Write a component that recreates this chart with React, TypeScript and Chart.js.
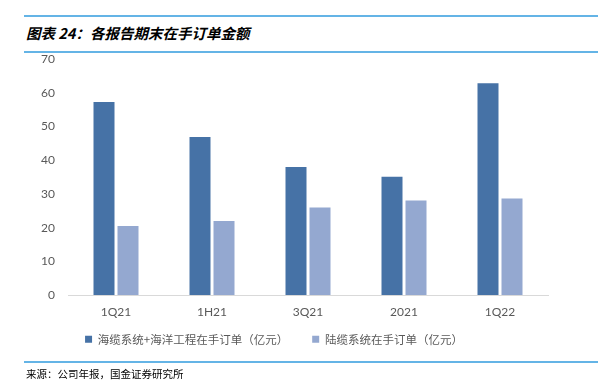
import React, { useEffect, useRef } from "react";
import { Chart, registerables } from "chart.js";

Chart.register(...registerables);

const categories = ["1Q21", "1H21", "3Q21", "2021", "1Q22"];
const seriesSea = [57.3, 46.9, 38.0, 35.1, 62.9];
const seriesLand = [20.5, 22.0, 26.0, 28.1, 28.7];
const seriesNames = ["海缆系统+海洋工程在手订单（亿元）", "陆缆系统在手订单（亿元）"];
const yTicksMax = 70;

const titleText = "图表 24：各报告期末在手订单金额";
const sourceText = "来源：公司年报，国金证券研究所";

const legendLift = {
  id: "legendLift",
  afterLayout(chart: any) {
    if (chart.legend) {
      chart.legend.top -= 20;
      chart.legend.bottom -= 20;
    }
  },
};

export default function App() {
  const ref = useRef<HTMLCanvasElement | null>(null);

  useEffect(() => {
    if (!ref.current) return;
    const chart = new Chart(ref.current, {
      type: "bar",
      data: {
        labels: categories,
        datasets: [
          {
            label: seriesNames[0],
            data: seriesSea,
            backgroundColor: "#4672A6",
            categoryPercentage: 0.5,
            barPercentage: 0.875,
          },
          {
            label: seriesNames[1],
            data: seriesLand,
            backgroundColor: "#94A8D0",
            categoryPercentage: 0.5,
            barPercentage: 0.875,
          },
        ],
      },
      plugins: [legendLift],
      options: {
        animation: false,
        responsive: false,
        maintainAspectRatio: false,
        layout: { padding: { top: 0, right: 50, left: 0, bottom: 2 } },
        plugins: {
          tooltip: { enabled: false },
          legend: {
            position: "bottom",
            labels: {
              boxWidth: 7,
              boxHeight: 7,
              padding: 24,
              color: "#595959",
              font: { family: "'Noto Sans CJK SC', sans-serif", size: 11.5 },
            },
          },
        },
        scales: {
          x: {
            grid: { display: false, drawTicks: false },
            border: { display: true, color: "#D9D9D9", width: 1 },
            ticks: {
              padding: 10,
              color: "#595959",
              font: { family: "Lato, sans-serif", size: 12 },
            },
          },
          y: {
            min: 0,
            max: yTicksMax,
            afterFit: (s: any) => {
              s.width = 68;
            },
            grid: { display: false, drawTicks: false },
            border: { display: false },
            ticks: {
              stepSize: 10,
              padding: 13,
              color: "#595959",
              font: { family: "Lato, sans-serif", size: 12 },
            },
          },
        },
      },
    });
    return () => chart.destroy();
  }, []);

  const line: React.CSSProperties = {
    position: "absolute",
    left: 24,
    right: 0,
    height: 2,
    background: "#64B4E6",
  };

  return (
    <div
      style={{
        position: "fixed",
        left: 0,
        top: 0,
        width: 598,
        height: 390,
        background: "#fff",
        overflow: "hidden",
      }}
    >
      <div style={{ ...line, top: 15 }} />
      <div
        style={{
          position: "absolute",
          left: 26,
          top: 23,
          fontFamily: "'Noto Sans CJK SC', sans-serif",
          fontWeight: 700,
          fontStyle: "italic",
          fontSize: 14.5,
          lineHeight: "20px",
          color: "#000",
          whiteSpace: "nowrap",
        }}
      >
        {titleText}
      </div>
      <div style={{ ...line, top: 51 }} />
      <canvas
        ref={ref}
        width={598}
        height={338}
        style={{ position: "absolute", left: 0, top: 39, width: 598, height: 338 }}
      />
      <div style={{ ...line, top: 361 }} />
      <div
        style={{
          position: "absolute",
          left: 26,
          top: 366,
          fontFamily: "'Noto Sans CJK SC', sans-serif",
          fontSize: 10.5,
          lineHeight: "16px",
          color: "#000",
          whiteSpace: "nowrap",
        }}
      >
        {sourceText}
      </div>
    </div>
  );
}
